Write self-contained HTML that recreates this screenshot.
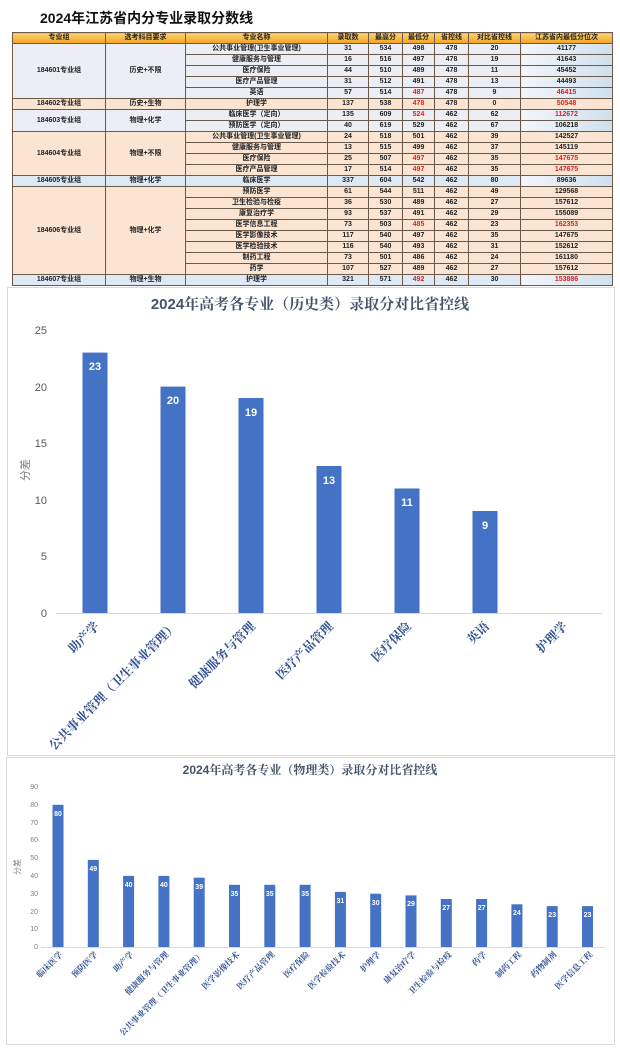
<!DOCTYPE html>
<html><head><meta charset="utf-8">
<style>
body{margin:0;width:620px;height:1052px;background:#fff;position:relative;overflow:hidden;font-family:"Liberation Sans","Noto Sans CJK SC",sans-serif}
.t{position:absolute;left:40px;top:8px;font-size:14px;font-weight:bold;color:#111}
table{position:absolute;left:12px;top:32px;border-collapse:collapse;table-layout:fixed;width:600px;font-size:7px;font-weight:bold;color:#222;text-align:center}
td,th{border:1px solid #6b5a4a;height:10px;padding:0;line-height:10px;white-space:nowrap;overflow:hidden}
th{background:linear-gradient(#fcd36f,#f2a323);height:10px}
.a td{background:#eceef6}.b td{background:#fbe4d2}.c td{background:#dde9f5}
td.l{background:linear-gradient(90deg,#f3f6fb,#cfe0ee)!important}
.r{color:#e02020}
</style></head><body>
<div class="t">2024年江苏省内分专业录取分数线</div>
<table>
<colgroup><col style="width:93px"><col style="width:80px"><col style="width:142px"><col style="width:41px"><col style="width:34px"><col style="width:32px"><col style="width:34px"><col style="width:52px"><col style="width:92px"></colgroup>
<tr><th>专业组</th><th>选考科目要求</th><th>专业名称</th><th>录取数</th><th>最高分</th><th>最低分</th><th>省控线</th><th>对比省控线</th><th>江苏省内最低分位次</th></tr>
<tr class="a"><td rowspan="5">184601专业组</td><td rowspan="5">历史+不限</td><td>公共事业管理(卫生事业管理)</td><td>31</td><td>534</td><td>498</td><td>478</td><td>20</td><td class="l">41177</td></tr>
<tr class="a"><td>健康服务与管理</td><td>16</td><td>516</td><td>497</td><td>478</td><td>19</td><td class="l">41643</td></tr>
<tr class="a"><td>医疗保险</td><td>44</td><td>510</td><td>489</td><td>478</td><td>11</td><td class="l">45452</td></tr>
<tr class="a"><td>医疗产品管理</td><td>31</td><td>512</td><td>491</td><td>478</td><td>13</td><td class="l">44493</td></tr>
<tr class="a"><td>英语</td><td>57</td><td>514</td><td class="r">487</td><td>478</td><td>9</td><td class="l r">46415</td></tr>
<tr class="b"><td>184602专业组</td><td>历史+生物</td><td>护理学</td><td>137</td><td>538</td><td class="r">478</td><td>478</td><td>0</td><td class="r">50548</td></tr>
<tr class="a"><td rowspan="2">184603专业组</td><td rowspan="2">物理+化学</td><td>临床医学（定向）</td><td>135</td><td>609</td><td class="r">524</td><td>462</td><td>62</td><td class="l r">112672</td></tr>
<tr class="a"><td>预防医学（定向）</td><td>40</td><td>619</td><td>529</td><td>462</td><td>67</td><td class="l">106218</td></tr>
<tr class="b"><td rowspan="4">184604专业组</td><td rowspan="4">物理+不限</td><td>公共事业管理(卫生事业管理)</td><td>24</td><td>518</td><td>501</td><td>462</td><td>39</td><td>142527</td></tr>
<tr class="b"><td>健康服务与管理</td><td>13</td><td>515</td><td>499</td><td>462</td><td>37</td><td>145119</td></tr>
<tr class="b"><td>医疗保险</td><td>25</td><td>507</td><td class="r">497</td><td>462</td><td>35</td><td class="r">147675</td></tr>
<tr class="b"><td>医疗产品管理</td><td>17</td><td>514</td><td class="r">497</td><td>462</td><td>35</td><td class="r">147675</td></tr>
<tr class="c"><td>184605专业组</td><td>物理+化学</td><td>临床医学</td><td>337</td><td>604</td><td>542</td><td>462</td><td>80</td><td class="l">89636</td></tr>
<tr class="b"><td rowspan="8">184606专业组</td><td rowspan="8">物理+化学</td><td>预防医学</td><td>61</td><td>544</td><td>511</td><td>462</td><td>49</td><td>129568</td></tr>
<tr class="b"><td>卫生检验与检疫</td><td>36</td><td>530</td><td>489</td><td>462</td><td>27</td><td>157612</td></tr>
<tr class="b"><td>康复治疗学</td><td>93</td><td>537</td><td>491</td><td>462</td><td>29</td><td>155089</td></tr>
<tr class="b"><td>医学信息工程</td><td>73</td><td>503</td><td class="r">485</td><td>462</td><td>23</td><td class="r">162353</td></tr>
<tr class="b"><td>医学影像技术</td><td>117</td><td>540</td><td>497</td><td>462</td><td>35</td><td>147675</td></tr>
<tr class="b"><td>医学检验技术</td><td>116</td><td>540</td><td>493</td><td>462</td><td>31</td><td>152612</td></tr>
<tr class="b"><td>制药工程</td><td>73</td><td>501</td><td>486</td><td>462</td><td>24</td><td>161180</td></tr>
<tr class="b"><td>药学</td><td>107</td><td>527</td><td>489</td><td>462</td><td>27</td><td>157612</td></tr>
<tr class="c"><td>184607专业组</td><td>物理+生物</td><td>护理学</td><td>321</td><td>571</td><td class="r">492</td><td>462</td><td>30</td><td class="l r">153886</td></tr>
</table>
<svg width="620" height="1052" style="position:absolute;left:0;top:0" font-family="'Liberation Sans','Noto Sans CJK SC',sans-serif">
<rect x="7.5" y="287.5" width="607" height="468" fill="none" stroke="#d9d9d9"/>
<rect x="6.5" y="757.5" width="608" height="287" fill="none" stroke="#d9d9d9"/>
<text x="310" y="309" text-anchor="middle" font-size="15" font-weight="bold" fill="#44546a" font-family="'Liberation Sans','Noto Serif CJK SC',serif">2024年高考各专业（历史类）录取分对比省控线</text>
<g font-size="11" fill="#595959" text-anchor="end">
<text x="47" y="617">0</text><text x="47" y="560">5</text><text x="47" y="504">10</text><text x="47" y="447">15</text><text x="47" y="391">20</text><text x="47" y="334">25</text></g>
<text transform="translate(29,470) rotate(-90)" text-anchor="middle" font-size="11" fill="#7f7f7f">分差</text>
<line x1="56" y1="613.5" x2="602" y2="613.5" stroke="#d9d9d9"/>
<g fill="#4472c4">
<rect x="82.5" y="352.6" width="25" height="260.4"/><rect x="160.5" y="386.6" width="25" height="226.4"/><rect x="238.5" y="398" width="25" height="215"/><rect x="316.5" y="466" width="25" height="147"/><rect x="394.5" y="488.5" width="25" height="124.5"/><rect x="472.5" y="511" width="25" height="102"/></g>
<g fill="#fff" font-size="11" font-weight="bold" text-anchor="middle">
<text x="95" y="370">23</text><text x="173" y="404">20</text><text x="251" y="416">19</text><text x="329" y="484">13</text><text x="407" y="506">11</text><text x="485" y="529">9</text></g>
<g font-size="12.5" font-weight="bold" fill="#2f4f8f" text-anchor="end" font-family="'Liberation Serif','Noto Serif CJK SC',serif">
<text transform="translate(100,627) rotate(-45)">助产学</text>
<text transform="translate(178,627) rotate(-45)">公共事业管理（卫生事业管理）</text>
<text transform="translate(256,627) rotate(-45)">健康服务与管理</text>
<text transform="translate(334,627) rotate(-45)">医疗产品管理</text>
<text transform="translate(412,627) rotate(-45)">医疗保险</text>
<text transform="translate(490,627) rotate(-45)">英语</text>
<text transform="translate(568,627) rotate(-45)">护理学</text></g>

<text x="310" y="774" text-anchor="middle" font-size="12" font-weight="bold" fill="#44546a" font-family="'Liberation Sans','Noto Serif CJK SC',serif">2024年高考各专业（物理类）录取分对比省控线</text>
<g font-size="7" fill="#7f7f7f" text-anchor="end">
<text x="38" y="949">0</text><text x="38" y="931">10</text><text x="38" y="914">20</text><text x="38" y="896">30</text><text x="38" y="878">40</text><text x="38" y="860">50</text><text x="38" y="842">60</text><text x="38" y="825">70</text><text x="38" y="807">80</text><text x="38" y="789">90</text></g>
<text transform="translate(20,867) rotate(-90)" text-anchor="middle" font-size="8" fill="#7f7f7f">分差</text>
<line x1="41" y1="947.5" x2="605" y2="947.5" stroke="#d9d9d9"/>
<g fill="#4472c4">
<rect x="52.5" y="804.8" width="11" height="142.2"/><rect x="87.8" y="859.9" width="11" height="87.1"/><rect x="123.1" y="875.9" width="11" height="71.1"/><rect x="158.4" y="875.9" width="11" height="71.1"/><rect x="193.7" y="877.7" width="11" height="69.3"/><rect x="229" y="884.8" width="11" height="62.2"/><rect x="264.3" y="884.8" width="11" height="62.2"/><rect x="299.6" y="884.8" width="11" height="62.2"/><rect x="334.9" y="891.9" width="11" height="55.1"/><rect x="370.2" y="893.7" width="11" height="53.3"/><rect x="405.5" y="895.4" width="11" height="51.6"/><rect x="440.8" y="899" width="11" height="48"/><rect x="476.1" y="899" width="11" height="48"/><rect x="511.4" y="904.3" width="11" height="42.7"/><rect x="546.7" y="906.1" width="11" height="40.9"/><rect x="582" y="906.1" width="11" height="40.9"/></g>
<g fill="#fff" font-size="7" font-weight="bold" text-anchor="middle">
<text x="58" y="816">80</text><text x="93.3" y="871">49</text><text x="128.6" y="887">40</text><text x="163.9" y="887">40</text><text x="199.2" y="889">39</text><text x="234.5" y="896">35</text><text x="269.8" y="896">35</text><text x="305.1" y="896">35</text><text x="340.4" y="903">31</text><text x="375.7" y="905">30</text><text x="411" y="906">29</text><text x="446.3" y="910">27</text><text x="481.6" y="910">27</text><text x="516.9" y="915">24</text><text x="552.2" y="917">23</text><text x="587.5" y="917">23</text></g>
<g font-size="8.2" font-weight="bold" fill="#2f4f8f" text-anchor="end" font-family="'Liberation Serif','Noto Serif CJK SC',serif">
<text transform="translate(63,955) rotate(-45)">临床医学</text>
<text transform="translate(98,955) rotate(-45)">预防医学</text>
<text transform="translate(134,955) rotate(-45)">助产学</text>
<text transform="translate(169,955) rotate(-45)">健康服务与管理</text>
<text transform="translate(204,955) rotate(-45)">公共事业管理（卫生事业管理）</text>
<text transform="translate(240,955) rotate(-45)">医学影像技术</text>
<text transform="translate(275,955) rotate(-45)">医疗产品管理</text>
<text transform="translate(310,955) rotate(-45)">医疗保险</text>
<text transform="translate(346,955) rotate(-45)">医学检验技术</text>
<text transform="translate(381,955) rotate(-45)">护理学</text>
<text transform="translate(416,955) rotate(-45)">康复治疗学</text>
<text transform="translate(452,955) rotate(-45)">卫生检验与检疫</text>
<text transform="translate(487,955) rotate(-45)">药学</text>
<text transform="translate(522,955) rotate(-45)">制药工程</text>
<text transform="translate(557,955) rotate(-45)">药物制剂</text>
<text transform="translate(593,955) rotate(-45)">医学信息工程</text></g>
</svg>
</body></html>
